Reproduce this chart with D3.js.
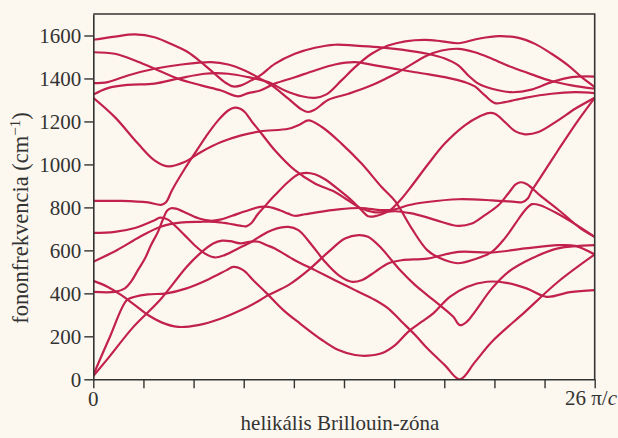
<!DOCTYPE html>
<html><head><meta charset="utf-8">
<script src="https://cdn.jsdelivr.net/npm/d3@7"></script>
<style>html,body{margin:0;padding:0;background:#fcf8ef;} svg{display:block;}</style>
</head><body><svg id="c" width="618" height="438"></svg>
<script>
const yTickValues = [0, 200, 400, 600, 800, 1000, 1200, 1400, 1600];
const xTickValues = [0, 1, 2, 3, 4, 5, 6, 7, 8, 9, 10];
const xEndLabels = ["0", "26 π/"];
const xAxisTitle = "helikális Brillouin-zóna";
const yAxisTitle = "fononfrekvencia (cm";

// branches: [k (zone, 0..10 tick units), frequency cm^-1]
const branchU1 = [[0,1580],[0.43,1595],[0.83,1605],[1.22,1592],[1.62,1553],[1.89,1522],[2.15,1476],[2.42,1422],[2.62,1383],[2.79,1363],[2.95,1368],[3.15,1391],[3.33,1414],[3.62,1468],[4.02,1515],[4.42,1543],[4.82,1557],[5.22,1553],[5.68,1546],[6.15,1534],[6.66,1515],[7.01,1493],[7.28,1461],[7.48,1414],[7.68,1376],[7.95,1352],[8.34,1336],[8.74,1348],[9.14,1383],[9.54,1406],[10,1409]];
const branchU2 = [[0,1522],[0.43,1515],[0.83,1484],[1.22,1445],[1.69,1399],[2.15,1368],[2.55,1344],[2.89,1317],[3.09,1332],[3.33,1344],[3.62,1376],[4.02,1406],[4.42,1437],[4.82,1465],[5.22,1476],[5.62,1461],[6.02,1445],[6.42,1429],[6.62,1422],[7.01,1406],[7.41,1383],[7.61,1363],[7.81,1321],[8.01,1285],[8.21,1290],[8.61,1310],[9.14,1329],[9.61,1336],[10,1332]];
const branchU3 = [[0,1378],[0.29,1383],[0.69,1414],[1.22,1445],[1.76,1465],[2.35,1476],[2.69,1465],[3.02,1437],[3.33,1399],[3.56,1368],[3.89,1306],[4.16,1255],[4.29,1244],[4.42,1255],[4.69,1301],[5.09,1329],[5.55,1368],[6.08,1429],[6.66,1507],[6.95,1530],[7.28,1538],[7.61,1522],[7.95,1492],[8.34,1453],[8.74,1419],[9.14,1388],[9.54,1368],[10,1352]];
const branchU4 = [[0,1325],[0.29,1355],[0.69,1370],[1.22,1376],[1.69,1399],[2.22,1422],[2.69,1422],[3.09,1406],[3.49,1383],[3.82,1344],[4.16,1317],[4.42,1310],[4.65,1326],[4.95,1391],[5.22,1453],[5.55,1515],[5.88,1553],[6.22,1573],[6.62,1580],[6.95,1573],[7.28,1564],[7.68,1585],[8.08,1597],[8.48,1589],[8.81,1561],[9.14,1515],[9.47,1461],[9.74,1406],[10,1360]];
const branchU5 = [[0,1310],[0.43,1220],[0.89,1097],[1.22,1019],[1.49,991],[1.82,1011],[2.15,1058],[2.55,1104],[2.95,1135],[3.33,1154],[3.89,1166],[4.12,1186],[4.29,1205],[4.56,1174],[4.95,1097],[5.35,1004],[5.75,895],[6.02,829],[6.35,702],[6.66,601],[6.91,564],[7.27,540],[7.61,559],[7.95,593],[8.21,657],[8.41,722],[8.61,787],[8.75,815],[8.91,810],[9.21,777],[9.61,722],[10,663]];
const branchL1 = [[0,830],[0.56,830],[1.09,823],[1.35,812],[1.45,824],[1.57,880],[1.83,982],[2.02,1050],[2.25,1131],[2.49,1205],[2.69,1251],[2.82,1264],[2.93,1259],[3.02,1244],[3.17,1197],[3.33,1151],[3.62,1066],[4.02,973],[4.42,911],[4.82,872],[5.08,833],[5.35,795],[5.62,777],[6.02,782],[6.32,773],[6.62,756],[6.95,732],[7.28,714],[7.55,725],[7.81,764],[8.08,810],[8.28,866],[8.43,908],[8.53,917],[8.65,908],[8.91,856],[9.31,782],[9.71,704],[10,663]];
const branchL2 = [[0,681],[0.43,686],[0.83,704],[1.22,740],[1.33,752],[1.49,743],[1.62,717],[1.82,671],[2.02,624],[2.22,586],[2.42,567],[2.62,578],[2.89,609],[3.15,639],[3.33,666],[3.56,694],[3.89,709],[4.09,694],[4.36,624],[4.62,547],[4.89,485],[5.15,454],[5.35,461],[5.62,500],[5.88,539],[6.15,554],[6.66,562],[7.28,593],[7.95,590],[8.61,609],[9.27,624],[9.61,621],[10,581]];
const branchL3 = [[0,547],[0.47,601],[0.93,663],[1.33,709],[1.73,729],[2.13,733],[2.43,733],[2.69,725],[2.93,715],[3.05,712],[3.15,726],[3.28,768],[3.42,805],[3.62,856],[3.88,917],[4.09,954],[4.24,961],[4.42,954],[4.62,931],[4.95,872],[5.15,833],[5.35,787],[5.48,759],[5.62,759],[5.75,768],[5.92,787],[6.12,833],[6.36,903],[6.66,996],[7.01,1097],[7.41,1182],[7.71,1224],[7.88,1239],[8.01,1236],[8.21,1197],[8.41,1155],[8.61,1140],[8.88,1151],[9.27,1205],[9.61,1259],[10,1310]];
const branchL4 = [[0,407],[0.43,407],[0.63,423],[0.76,457],[0.89,508],[1.03,562],[1.15,624],[1.29,686],[1.39,745],[1.47,784],[1.55,796],[1.65,794],[1.89,770],[2.13,747],[2.33,738],[2.53,743],[2.77,761],[3.03,782],[3.33,802],[3.49,802],[3.72,787],[3.89,771],[4.02,761],[4.22,768],[4.42,776],[4.89,791],[5.35,797],[5.75,787],[6.02,791],[6.28,810],[6.66,825],[7.28,838],[7.95,833],[8.41,826],[8.55,824],[8.67,843],[8.75,880],[8.88,926],[9.27,1066],[9.67,1205],[10,1310]];
const branchL5 = [[0,458],[0.29,430],[0.56,392],[0.83,345],[1.09,299],[1.36,265],[1.69,244],[2.09,252],[2.55,283],[2.95,322],[3.33,369],[3.49,392],[3.89,438],[4.29,508],[4.69,593],[5.02,655],[5.29,671],[5.48,663],[5.75,609],[5.95,554],[6.15,500],[6.42,438],[6.66,392],[6.91,345],[7.18,291],[7.31,252],[7.45,268],[7.61,314],[7.95,423],[8.28,500],[8.74,562],[9.27,609],[10,624]];
const branchL6 = [[0,20],[0.33,197],[0.67,369],[0.83,384],[1.09,395],[1.46,400],[1.86,423],[2.26,461],[2.66,508],[2.79,523],[2.99,508],[3.19,461],[3.46,400],[3.79,322],[4.12,260],[4.56,183],[4.89,136],[5.22,113],[5.48,110],[5.75,121],[6.02,159],[6.28,221],[6.55,268],[6.78,307],[7.11,384],[7.45,430],[7.85,454],[8.24,449],[8.64,423],[9.04,384],[9.51,406],[10,415]];
const branchL7 = [[0,15],[0.33,108],[0.80,244],[1.33,369],[1.86,523],[2.13,586],[2.39,632],[2.57,645],[2.73,643],[2.93,633],[3.15,641],[3.3,640],[3.45,625],[3.62,609],[4.02,554],[4.42,508],[4.82,461],[5.22,415],[5.62,369],[5.88,330],[6.15,268],[6.42,206],[6.66,144],[7.01,66],[7.31,0],[7.61,80],[7.95,175],[8.61,314],[9.27,454],[10,581]];

const branches = [branchU1, branchU2, branchU3, branchU4, branchU5,
                  branchL1, branchL2, branchL3, branchL4, branchL5, branchL6, branchL7];

const W = 618, H = 438;
const mLeft = 93.3, mRight = 594.7, mTop = 14, mBottom = 379.3;
const FONT = "'Liberation Serif','Times New Roman',serif";
const INK = "#333";
const LINE = "#c2214b";

const svg = d3.select("#c");
svg.append("rect").attr("width", W).attr("height", H).attr("fill", "#fcf8ef");

const x = d3.scaleLinear().domain([0, 10]).range([mLeft, mRight]);
const y = d3.scaleLinear().domain([0, 1700]).range([mBottom, mTop]);

svg.append("defs").append("clipPath").attr("id", "clip")
  .append("rect").attr("x", mLeft).attr("y", mTop).attr("width", mRight - mLeft).attr("height", mBottom - mTop);

const line = d3.line().x(d => x(d[0])).y(d => y(d[1])).curve(d3.curveCatmullRom.alpha(0.5));

svg.append("g").attr("clip-path", "url(#clip)")
  .selectAll("path").data(branches).join("path")
  .attr("d", line)
  .attr("fill", "none")
  .attr("stroke", LINE)
  .attr("stroke-width", 2.2)
  .attr("stroke-linejoin", "round");

svg.append("path")
  .attr("d", `M${mLeft},${mTop}H${mRight}V${mBottom}`)
  .attr("fill", "none").attr("stroke", INK).attr("stroke-width", 1.6);

const yAxis = d3.axisLeft(y).tickValues(yTickValues).tickFormat(d3.format("d"))
  .tickSize(9).tickSizeOuter(0).tickPadding(3);
const gy = svg.append("g").attr("transform", `translate(${mLeft},0)`).call(yAxis);
gy.selectAll("text").attr("font-family", FONT).attr("font-size", 21).attr("fill", INK);

const xAxis = d3.axisBottom(x).tickValues(xTickValues).tickSize(9).tickSizeOuter(0).tickFormat(() => "");
const gx = svg.append("g").attr("transform", `translate(0,${mBottom})`).call(xAxis);

[gy, gx].forEach(g => {
  g.select(".domain").attr("stroke", INK).attr("stroke-width", 1.6);
  g.selectAll(".tick line").attr("stroke", INK).attr("stroke-width", 1.4);
});

svg.append("text").attr("x", x(0)).attr("y", 406)
  .attr("text-anchor", "middle").attr("font-family", FONT).attr("font-size", 21).attr("fill", INK)
  .text(xEndLabels[0]);
const endLab = svg.append("text").attr("x", 617).attr("y", 405)
  .attr("text-anchor", "end").attr("font-family", FONT).attr("font-size", 21).attr("fill", INK);
endLab.append("tspan").text(xEndLabels[1]);
endLab.append("tspan").attr("font-style", "italic").text("c");

svg.append("text").attr("x", 340).attr("y", 430)
  .attr("text-anchor", "middle").attr("font-family", FONT).attr("font-size", 21).attr("fill", INK)
  .text(xAxisTitle);

const yt = svg.append("text").attr("transform", "translate(28,218) rotate(-90)")
  .attr("text-anchor", "middle").attr("font-family", FONT).attr("font-size", 22.5).attr("fill", INK);
yt.append("tspan").text(yAxisTitle);
yt.append("tspan").attr("baseline-shift", "super").attr("font-size", 15).text("−1");
yt.append("tspan").text(")");
</script></body></html>
